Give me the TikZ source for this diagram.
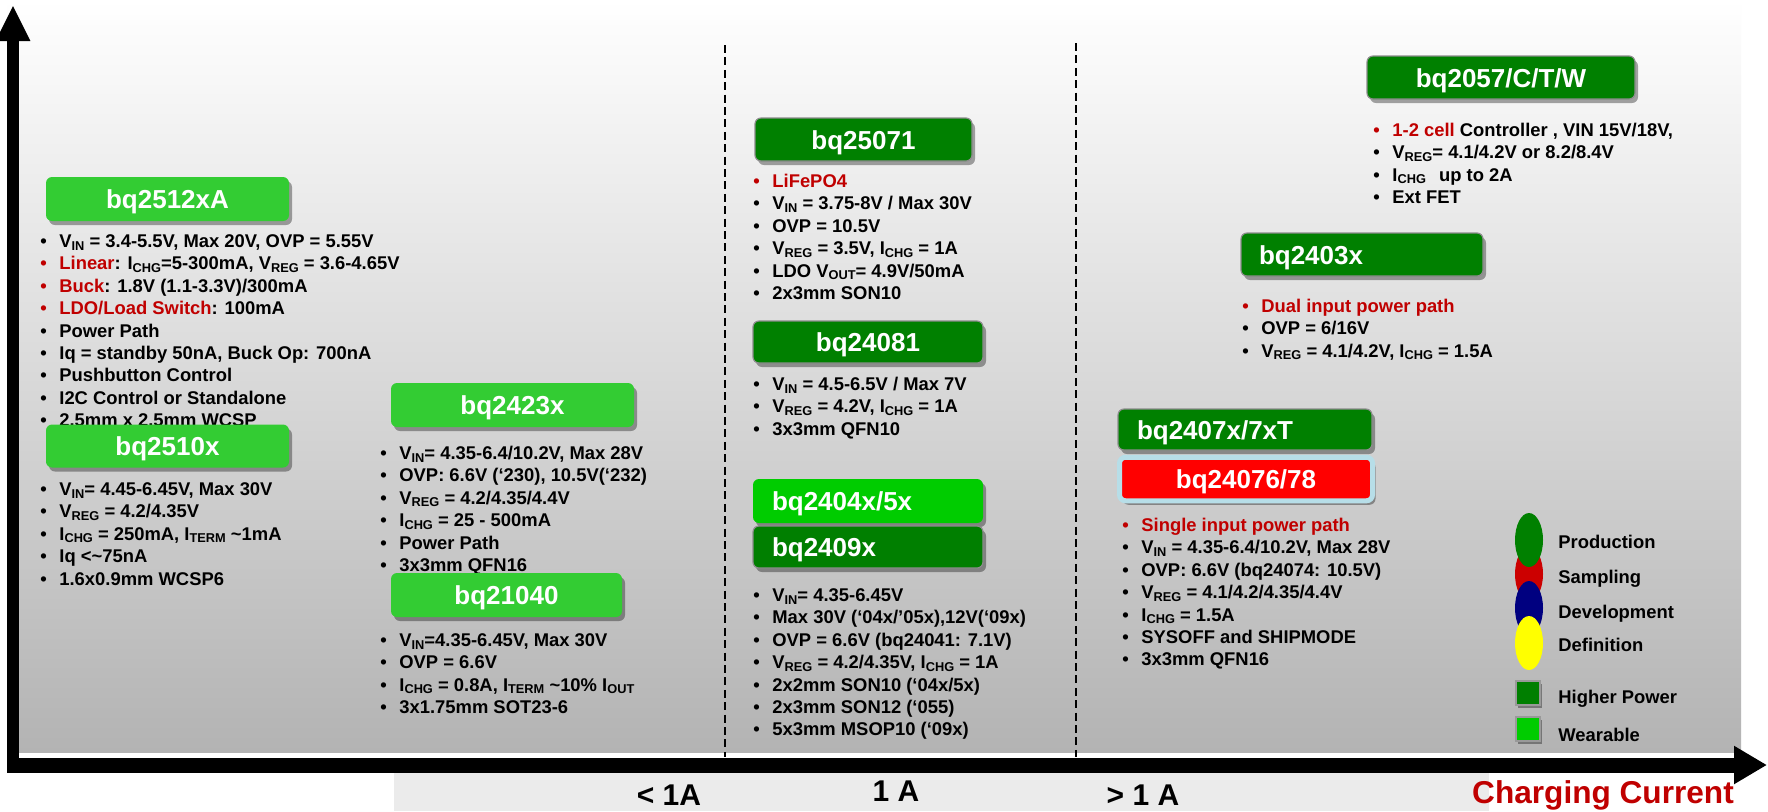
\documentclass[tikz,border=0pt]{standalone}
\usepackage{fontspec}
\setmainfont{Liberation Sans}
\usetikzlibrary{shadows,shapes.geometric,arrows.meta}

\definecolor{limeg}{HTML}{33CC33}
\definecolor{darkg}{HTML}{008000}
\definecolor{wearg}{HTML}{00CC00}
\definecolor{hpg}{HTML}{007F00}
\definecolor{tired}{HTML}{C00000}
\definecolor{boxred}{HTML}{FF0000}
\definecolor{redborder}{HTML}{B7DEE8}
\definecolor{legred}{HTML}{CC0000}
\definecolor{legblue}{HTML}{000080}
\definecolor{legyellow}{HTML}{FFFF00}
\definecolor{bgbottom}{HTML}{B3B3B3}
\definecolor{band}{HTML}{EBEBEB}

\newcommand\sbs[1]{\raisebox{-1.3pt}{\fontsize{6.4}{6.4}\selectfont #1}}
\newcommand\bl{\makebox[9.5pt][l]{\textbullet}}
\newcommand\rbl{\makebox[9.5pt][l]{\color{tired}\textbullet}}
\newcommand\rt[1]{\textcolor{tired}{#1}}

\tikzset{
 title/.style={rounded corners=3pt, text=white, font=\fontsize{13}{13}\selectfont\bfseries,
   inner sep=0pt, text height=9.6pt, text depth=0pt,
   drop shadow={shadow xshift=1.5pt, shadow yshift=-2pt, opacity=0.35, fill=black}},
 lightbox/.style={title, fill=limeg},
 darkbox/.style={title, fill=darkg, draw=black!45, line width=0.6pt},
 list/.style={anchor=base west, inner sep=0pt, font=\fontsize{9.2}{11.2}\selectfont\bfseries},
 leg/.style={anchor=base west, inner sep=0pt, font=\fontsize{9.2}{11.2}\selectfont\bfseries},
 axlab/.style={anchor=base, inner sep=0pt, font=\fontsize{15}{15}\selectfont\bfseries},
 dash line/.style={black, line width=0.7pt, dash pattern=on 4pt off 2.2pt},
 legell/.style={ellipse, inner sep=0pt, minimum width=14pt, minimum height=27pt},
 legsq/.style={rectangle, inner sep=0pt, minimum size=12pt, draw=black!40, line width=0.6pt,
   drop shadow={shadow xshift=1pt, shadow yshift=-1.5pt, opacity=0.35, fill=black}},
}

\begin{document}
\begin{tikzpicture}[x=0.5pt,y=-0.5pt]
\useasboundingbox (0,0) rectangle (1768,811);
% backgrounds
\fill[white] (0,0) rectangle (1768,811);
\shade[top color=white, bottom color=bgbottom] (7,0) rectangle (1741,752);
\fill[band] (394,773) rectangle (1489,811);

% dashed separators
\coordinate (d1t) at (725,45); \coordinate (d1b) at (725,757);
\coordinate (d2t) at (1076,43); \coordinate (d2b) at (1076,757);
\draw[dash line] (d1t) -- (d1b);
\draw[dash line] (d2t) -- (d2b);

% axes
\coordinate (xstart) at (7,765);
\coordinate (xend) at (1767,765);
\coordinate (ystart) at (13,772);
\coordinate (yend) at (13,5);
\draw[line width=7.5pt, -{Triangle[length=16.5pt,width=18pt]}] (xstart) -- (xend);
\draw[line width=6pt, -{Triangle[length=18pt,width=16pt]}] (ystart) -- (yend);

% axis labels
\node[axlab] (lt) at (669,805) {< 1A};
\node[axlab] (eq) at (896,801) {1 A};
\node[axlab] (gt) at (1143,805) {> 1 A};
\node[axlab, font=\fontsize{15.8}{15.8}\selectfont\bfseries, text=tired] (cc) at (1603,803) {Charging Current};

% ---- left column
\node[lightbox, minimum width=121.5pt, minimum height=22pt] (b2512) at (167.5,199) {bq2512xA};
\node[list] (l2512) at (40,247.5) {\begin{tabular}[t]{@{}l@{}}
\bl V\sbs{IN} = 3.4-5.5V, Max 20V, OVP = 5.55V\\
\rbl \rt{Linear}: I\sbs{CHG}=5-300mA, V\sbs{REG} = 3.6-4.65V\\
\rbl \rt{Buck}: 1.8V (1.1-3.3V)/300mA\\
\rbl \rt{LDO/Load Switch}: 100mA\\
\bl Power Path\\
\bl Iq = standby 50nA, Buck Op: 700nA\\
\bl Pushbutton Control\\
\bl I2C Control or Standalone\\
\bl 2.5mm x 2.5mm WCSP
\end{tabular}};

\node[lightbox, minimum width=121.5pt, minimum height=21.5pt] (b2510) at (167.5,446) {bq2510x};
\node[list] (l2510) at (40,495.5) {\begin{tabular}[t]{@{}l@{}}
\bl V\sbs{IN}= 4.45-6.45V, Max 30V\\
\bl V\sbs{REG} = 4.2/4.35V\\
\bl I\sbs{CHG} = 250mA, I\sbs{TERM} \textasciitilde1mA\\
\bl Iq <\textasciitilde75nA\\
\bl 1.6x0.9mm WCSP6
\end{tabular}};

\node[lightbox, minimum width=121.5pt, minimum height=22pt] (b2423) at (512.5,405) {bq2423x};
\node[list] (l2423) at (380,459.5) {\begin{tabular}[t]{@{}l@{}}
\bl V\sbs{IN}= 4.35-6.4/10.2V, Max 28V\\
\bl OVP: 6.6V (‘230), 10.5V(‘232)\\
\bl V\sbs{REG} = 4.2/4.35/4.4V\\
\bl I\sbs{CHG} = 25 - 500mA\\
\bl Power Path\\
\bl 3x3mm QFN16
\end{tabular}};

\node[lightbox, minimum width=115.5pt, minimum height=22pt] (b21040) at (506.5,595) {bq21040};
\node[list] (l21040) at (380,646.5) {\begin{tabular}[t]{@{}l@{}}
\bl V\sbs{IN}=4.35-6.45V, Max 30V\\
\bl OVP = 6.6V\\
\bl I\sbs{CHG} = 0.8A, I\sbs{TERM} \textasciitilde10\% I\sbs{OUT}\\
\bl 3x1.75mm SOT23-6
\end{tabular}};

% ---- middle column
\node[darkbox, minimum width=108.5pt, minimum height=21.5pt] (b25071) at (863.5,139.5) {bq25071};
\node[list] (l25071) at (753,187.5) {\begin{tabular}[t]{@{}l@{}}
\rbl \rt{LiFePO4}\\
\bl V\sbs{IN} = 3.75-8V / Max 30V\\
\bl OVP = 10.5V\\
\bl V\sbs{REG} = 3.5V, I\sbs{CHG} = 1A\\
\bl LDO V\sbs{OUT}= 4.9V/50mA\\
\bl 2x3mm SON10
\end{tabular}};

\node[darkbox, minimum width=115pt, minimum height=21pt] (b24081) at (868,342) {bq24081};
\node[list] (l24081) at (753,390.5) {\begin{tabular}[t]{@{}l@{}}
\bl V\sbs{IN} = 4.5-6.5V / Max 7V\\
\bl V\sbs{REG} = 4.2V, I\sbs{CHG} = 1A\\
\bl 3x3mm QFN10
\end{tabular}};

\node[title, fill=wearg, minimum width=115pt, minimum height=22pt, text width=96pt, align=left,
  inner xsep=9.5pt] (b2404) at (868,501) {bq2404x/5x};
\node[darkbox, fill=hpg, minimum width=115pt, minimum height=21pt, text width=96pt, align=left,
  inner xsep=9.5pt] (b2409) at (868,547) {bq2409x};
\node[list] (l2409) at (753,601.5) {\begin{tabular}[t]{@{}l@{}}
\bl V\sbs{IN}= 4.35-6.45V\\
\bl Max 30V (‘04x/’05x),12V(‘09x)\\
\bl OVP = 6.6V (bq24041: 7.1V)\\
\bl V\sbs{REG} = 4.2/4.35V, I\sbs{CHG} = 1A\\
\bl 2x2mm SON10 (‘04x/5x)\\
\bl 2x3mm SON12 (‘055)\\
\bl 5x3mm MSOP10 (‘09x)
\end{tabular}};

% ---- right column
\node[darkbox, minimum width=134pt, minimum height=21.5pt] (b2057) at (1501,77.5) {bq2057/C/T/W};
\node[list] (l2057) at (1373,136.5) {\begin{tabular}[t]{@{}l@{}}
\rbl \rt{1-2 cell} Controller , VIN 15V/18V,\\
\bl V\sbs{REG}= 4.1/4.2V or 8.2/8.4V\\
\bl I\sbs{CHG}\hspace{4pt} up to 2A\\
\bl Ext FET
\end{tabular}};

\node[darkbox, minimum width=121pt, minimum height=21.5pt, text width=103pt, align=left,
  inner xsep=9pt] (b2403) at (1362,254.5) {bq2403x};
\node[list] (l2403) at (1242,312.5) {\begin{tabular}[t]{@{}l@{}}
\rbl \rt{Dual input power path}\\
\bl OVP = 6/16V\\
\bl V\sbs{REG} = 4.1/4.2V, I\sbs{CHG} = 1.5A
\end{tabular}};

\node[darkbox, minimum width=127pt, minimum height=20.5pt, text width=108pt, align=left,
  inner xsep=9.5pt] (b2407) at (1245,429.5) {bq2407x/7xT};
\node[title, fill=boxred, draw=redborder, line width=2.5pt, minimum width=126.5pt,
  minimum height=21.75pt] (b24076) at (1246,479) {bq24076/78};
\node[list] (l2407) at (1122,531.5) {\begin{tabular}[t]{@{}l@{}}
\rbl \rt{Single input power path}\\
\bl V\sbs{IN} = 4.35-6.4/10.2V, Max 28V\\
\bl OVP: 6.6V (bq24074: 10.5V)\\
\bl V\sbs{REG} = 4.1/4.2/4.35/4.4V\\
\bl I\sbs{CHG} = 1.5A\\
\bl SYSOFF and SHIPMODE\\
\bl 3x3mm QFN16
\end{tabular}};

% ---- legend
\node[legell, fill=legred] (e2) at (1529,574) {};
\node[legell, fill=darkg] (e1) at (1529,540) {};
\node[legell, fill=legblue] (e3) at (1529,608) {};
\node[legell, fill=legyellow] (e4) at (1529,643) {};
\node[leg] (t1) at (1558,548.5) {Production};
\node[leg] (t2) at (1558,583.5) {Sampling};
\node[leg] (t3) at (1558,618.5) {Development};
\node[leg] (t4) at (1558,651.5) {Definition};
\node[legsq, fill=hpg] (s1) at (1528,693) {};
\node[legsq, fill=wearg] (s2) at (1528,729) {};
\node[leg] (t5) at (1558,703.5) {Higher Power};
\node[leg] (t6) at (1558,741) {Wearable};
\end{tikzpicture}
\end{document}
